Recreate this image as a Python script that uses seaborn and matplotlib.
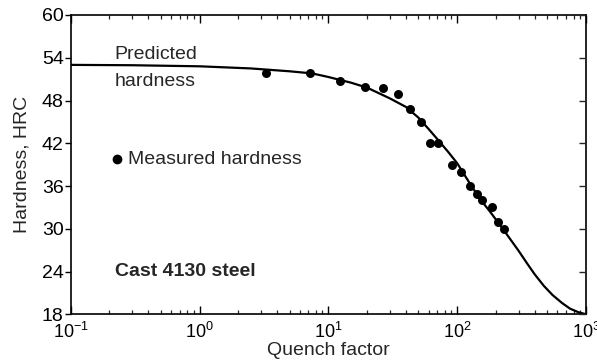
import matplotlib
matplotlib.use("Agg")
import matplotlib.pyplot as plt
import seaborn as sns
import pandas as pd
import numpy as np
from matplotlib.ticker import LogLocator, FixedLocator, NullFormatter

# Predicted hardness curve
curve_q = [0.1, 0.3, 1, 2.5, 5, 7.5, 10, 15, 20, 30, 40, 50, 60, 70, 85, 100,
           125, 150, 180, 230, 300, 350, 400, 470, 550, 650, 750, 870, 1000]
curve_hrc = [53.0, 52.95, 52.8, 52.5, 52.1, 51.8, 51.3, 50.5, 49.8, 48.3, 47.1,
             45.6, 44.0, 42.6, 40.8, 39.2, 36.4, 34.2, 32.4, 29.8, 26.9, 25.1,
             23.6, 22.0, 20.7, 19.6, 18.8, 18.3, 18.0]

# Measured hardness points
meas_q = [3.27, 7.25, 12.3, 19.2, 26.4, 34.6, 43.3, 52.5, 61.6, 71.5, 91.3,
          107, 125, 142, 157, 186, 207, 231]
meas_hrc = [51.8, 51.9, 50.8, 49.9, 49.8, 48.9, 46.8, 45.0, 42.0, 42.0, 39.0,
            38.0, 36.0, 34.9, 34.0, 33.0, 30.9, 29.9]

y_ticks = [18, 24, 30, 36, 42, 48, 54, 60]

sns.set_style("ticks")
plt.rcParams['font.family'] = ['Liberation Sans', 'DejaVu Sans']
plt.rcParams['mathtext.fontset'] = 'custom'
plt.rcParams['mathtext.rm'] = 'Liberation Sans'
plt.rcParams['mathtext.it'] = 'Liberation Sans'

curve_df = pd.DataFrame({"q": curve_q, "hrc": curve_hrc})
meas_df = pd.DataFrame({"q": meas_q, "hrc": meas_hrc})

fig = plt.figure(figsize=(5.97, 3.63), dpi=100)
ax = fig.add_axes([0.1184, 0.1342, 0.8632, 0.8245])

sns.lineplot(data=curve_df, x="q", y="hrc", ax=ax, color="black", lw=1.6,
             sort=False, estimator=None)
sns.scatterplot(data=meas_df, x="q", y="hrc", ax=ax, color="black", s=42,
                edgecolor="black", linewidth=0, zorder=3)

ax.set_xscale("log")
ax.set_xlim(0.1, 1000)
ax.set_ylim(18, 60)
ax.yaxis.set_major_locator(FixedLocator(y_ticks))
ax.xaxis.set_major_locator(LogLocator(base=10, numticks=10))
ax.xaxis.set_minor_locator(LogLocator(base=10, subs=np.arange(2, 10), numticks=20))
ax.xaxis.set_minor_formatter(NullFormatter())

for s in ax.spines.values():
    s.set_visible(True)
    s.set_linewidth(1.2)
    s.set_color("black")

ax.tick_params(axis="x", which="major", direction="in", length=6, width=1,
               top=True, bottom=True, labelsize=13, pad=5.5, colors="black")
ax.tick_params(axis="x", which="minor", direction="in", length=3, width=0.9,
               top=True, bottom=True)
ax.tick_params(axis="y", which="major", direction="out", length=4, width=1,
               left=True, right=False, labelsize=14, pad=1, colors="black")
# right side inward ticks
ax2 = ax.twinx()
ax2.set_ylim(18, 60)
ax2.yaxis.set_major_locator(FixedLocator(y_ticks))
ax2.tick_params(axis="y", direction="in", length=5, width=1, labelright=False)
for s in ax2.spines.values():
    s.set_visible(False)

ax.set_xlabel("Quench factor", fontsize=14, labelpad=0)
ax.set_ylabel("Hardness, HRC", fontsize=14, labelpad=8)

ax.text(0.22, 54.5, "Predicted", fontsize=14, va="center", ha="left")
ax.text(0.22, 50.6, "hardness", fontsize=14, va="center", ha="left")
ax.plot([0.2275], [39.8], "o", color="black", ms=6)
ax.text(0.28, 39.7, "Measured hardness", fontsize=14, va="center", ha="left")
ax.text(0.22, 24.0, "Cast 4130 steel", fontsize=14, fontweight="bold",
        va="center", ha="left")

fig.savefig("out.png", dpi=100)
